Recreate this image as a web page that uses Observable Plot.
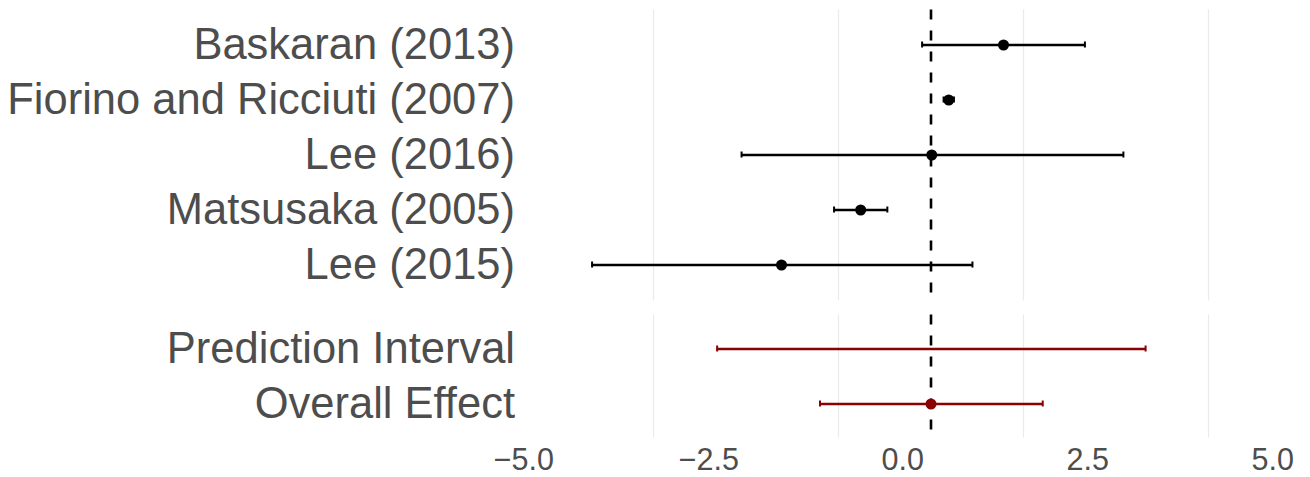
<!DOCTYPE html>
<html>
<head>
<meta charset="utf-8">
<script src="https://cdn.jsdelivr.net/npm/d3@7"></script>
<script src="https://cdn.jsdelivr.net/npm/@observablehq/plot@0.6"></script>
<style>
  body { margin: 0; background: #ffffff; }
  #chart svg { display: block; }
</style>
</head>
<body>
<div id="chart"></div>
<script>
// studies, top to bottom
const studies = ["Baskaran (2013)", "Fiorino and Ricciuti (2007)", "Lee (2016)", "Matsusaka (2005)", "Lee (2015)"]
const studyEst = [0.98, 0.24, 0.01, -0.95, -2.02]
const studyLo = [-0.12, 0.17, -2.56, -1.31, -4.58]
const studyHi = [2.08, 0.31, 2.60, -0.59, 0.56]

// pooled rows
const summaryRows = ["Prediction Interval", "Overall Effect"]
const summaryEst = [null, 0.0]
const summaryLo = [-2.89, -1.50]
const summaryHi = [2.90, 1.51]

const refLine = 0
const xTicks = [-5, -2.5, 0, 2.5, 5]
const gridTicks = [-3.75, -1.25, 1.25, 3.75]

const studyData = studies.map((s, i) => ({label: s, est: studyEst[i], lo: studyLo[i], hi: studyHi[i]}))
const summaryData = summaryRows.map((s, i) => ({label: s, est: summaryEst[i], lo: summaryLo[i], hi: summaryHi[i]}))

const font = "'Liberation Sans', Arial, sans-serif"
const xScale = {domain: [-5, 5]}

function panel(data, color, opts) {
  return Plot.plot({
    width: 1310,
    height: opts.height,
    marginLeft: 560.5,
    marginRight: 9.5,
    marginTop: opts.marginTop,
    marginBottom: opts.marginBottom,
    x: xScale,
    y: {type: "band", domain: data.map(d => d.label), paddingInner: 0, paddingOuter: 0.1},
    style: {fontFamily: font, background: "#ffffff"},
    marks: [
      Plot.ruleX(gridTicks, {stroke: "#ebebeb", strokeWidth: 1.2}),
      Plot.ruleX([refLine], {stroke: "#000", strokeWidth: 2.6, strokeDasharray: "10,11"}),
      Plot.ruleY(data, {y: "label", x1: "lo", x2: "hi", stroke: color, strokeWidth: 2.5}),
      Plot.tickX(data, {y: "label", x: "lo", stroke: color, strokeWidth: 2, insetTop: 24.5, insetBottom: 24.5}),
      Plot.tickX(data, {y: "label", x: "hi", stroke: color, strokeWidth: 2, insetTop: 24.5, insetBottom: 24.5}),
      Plot.dot(data.filter(d => d.est != null), {y: "label", x: "est", r: 5.5, fill: color, stroke: null}),
      Plot.axisY({tickSize: 0, tickPadding: 46, fontSize: 43.5, fill: "#4d4d4d", label: null, textAnchor: "end"}),
      opts.xAxis
        ? Plot.axisX(xTicks, {tickSize: 0, tickPadding: 10, fontSize: 30.5, fill: "#4d4d4d", label: null,
            tickFormat: d3.format(".1f"), textAnchor: "end", dx: -7})
        : Plot.axisX({ticks: [], label: null, tickSize: 0})
    ]
  })
}

const topPanel = panel(studyData, "#000000", {height: 307, marginTop: 9.4, marginBottom: 6.6, xAxis: false})
const bottomPanel = panel(summaryData, "#8b0000", {height: 170, marginTop: 7.4, marginBottom: 39.4, xAxis: true})

d3.select('#chart').append(() => topPanel)
d3.select('#chart').append(() => bottomPanel)
</script>
</body>
</html>
